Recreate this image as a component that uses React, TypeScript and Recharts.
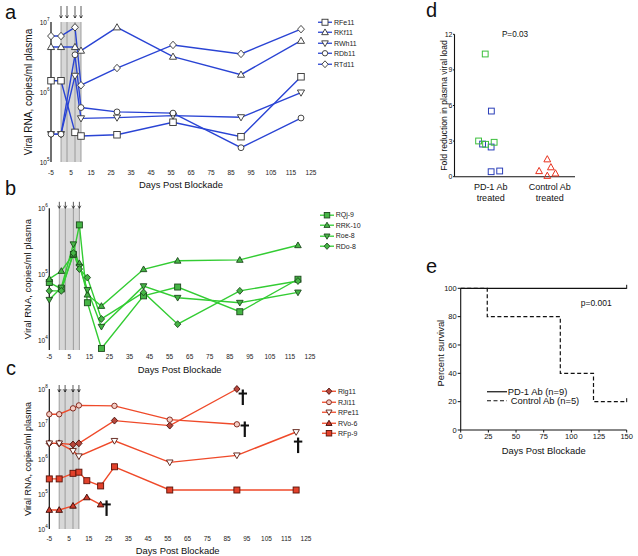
import React from "react";
import {
  LineChart,
  Line,
  XAxis,
  YAxis,
  ReferenceArea,
  ReferenceLine,
  ReferenceDot,
  Legend,
  ScatterChart,
  Scatter,
} from "recharts";

const FONT = '"Liberation Sans", Arial, Helvetica, sans-serif';
const INK = "#111";

// shared
const DAY_TICKS = [-5, 5, 15, 25, 35, 45, 55, 65, 75, 85, 95, 105, 115, 125];
const DOSE_DAYS = [0, 3, 7, 10];

// panel a (blue cohort)
const A_DAYS = [-5, 0, 7, 10, 28, 56, 90, 120];
const A_RFE11 = [1.45e6, 1.45e6, 2.65e5, 2.35e5, 2.45e5, 3.7e5, 2.3e5, 1.65e6];
const A_RKF11 = [4.4e6, 4.4e6, 4.4e6, 3.9e6, 8.4e6, 3.2e6, 1.77e6, 5.4e6];
const A_RWH11 = [2.5e5, 2.5e5, 1.7e6, 4.2e5, 4.3e5, 4.6e5, 4.35e5, 9.8e5];
const A_RDB11 = [2.5e5, 2.5e5, 3.4e6, 6.0e5, 5.2e5, 5.0e5, 1.6e5, 4.25e5];
const A_RTD11 = [6.3e6, 6.3e6, 8.4e6, 1.25e6, 2.2e6, 4.7e6, 3.5e6, 7.9e6];

// panel b (green cohort)
const B_DAYS = [-5, 1, 7, 10, 14, 21, 42, 59, 90, 119];
const B_RQJ9 = [7.5e4, 6.0e4, 2.0e5, 5.6e5, 3.7e4, 7.5e3, 4.7e4, 6.4e4, 2.7e4, 8.4e4];
const B_RRK10 = [8.5e4, 1.12e5, 2.0e5, 1.47e5, 4.9e4, 3.3e4, 1.19e5, 1.6e5, 1.65e5, 2.75e5];
const B_ROE8 = [4.1e4, 6.3e4, 2.85e5, 1.3e5, 5.8e4, 1.6e4, 6.6e4, 4.4e4, 3.7e4, 5.3e4];
const B_RDO8 = [5.6e4, 5.6e4, 2.1e5, 1.2e5, 8.9e4, 2.1e4, 5.3e4, 1.75e4, 5.6e4, 7.9e4];

// panel c (red cohort, controls)
const C_RLG11_DAYS = [-5, 0, 7, 10, 28, 56, 90];
const C_RLG11 = [2.8e6, 2.8e6, 2.6e6, 2.8e6, 1.25e7, 9e6, 1e8];
const C_RJI11_DAYS = [-5, 0, 7, 10, 28, 56, 90];
const C_RJI11 = [1.9e7, 1.9e7, 2.8e7, 3.4e7, 3.3e7, 1.33e7, 9.8e6];
const C_RPE11_DAYS = [-5, 0, 7, 10, 28, 56, 90, 120];
const C_RPE11 = [2.8e6, 2.8e6, 1.7e6, 1.2e6, 3.3e6, 8e5, 1.27e6, 5.9e6];
const C_RVO6_DAYS = [-5, 0, 7, 14, 21];
const C_RVO6 = [3.5e4, 3.5e4, 4.6e4, 8e4, 5e4];
const C_RFP9_DAYS = [-5, 0, 7, 10, 14, 21, 28, 56, 90, 120];
const C_RFP9 = [2.7e5, 2.7e5, 3.9e5, 4.2e5, 2.4e5, 1.7e5, 6e5, 1.3e5, 1.3e5, 1.3e5];
const C_DEATH_DAYS = [93, 94, 121, 24];
const C_DEATH_LEVELS = [5.9e7, 7.2e6, 2.5e6, 4e4];

// panel d
const D_CAT_POS = [0.3, 0.79];
const D_CAT_LABELS = [
  ["PD-1 Ab", "treated"],
  ["Control Ab", "treated"],
];
const D_BLUE_X = [0.306, 0.233, 0.304, 0.304, 0.375];
const D_BLUE_Y = [5.53, 2.75, 2.5, 0.42, 0.48];
const D_GREEN_X = [0.255, 0.2, 0.258, 0.329];
const D_GREEN_Y = [10.34, 3.01, 2.73, 2.9];
const D_RED_X = [0.77, 0.702, 0.8, 0.838, 0.77];
const D_RED_Y = [1.47, 0.48, 0.8, 0.28, 0.08];

// panel e
const E_PD1_DAYS = [0, 150];
const E_PD1_PCT = [100, 100];
const E_CTRL_DAYS = [0, 24, 90, 120, 150];
const E_CTRL_PCT = [100, 80, 40, 20, 20];
const E_X_TICKS = [0, 25, 50, 75, 100, 125, 150];
const E_Y_TICKS = [0, 20, 40, 60, 80, 100];
const E_GROUPS = ["PD-1 Ab (n=9)", "Control Ab (n=5)"];

type Shape = "square" | "circle" | "triangle" | "triangleDown" | "diamond";

interface Series {
  name: string;
  days: number[];
  values: number[];
  shape: Shape;
  fill: string;
  stroke: string;
}

const A_SERIES: Series[] = [
  { name: "RFe11", days: A_DAYS, values: A_RFE11, shape: "square", fill: "#fff", stroke: "#333" },
  { name: "RKf11", days: A_DAYS, values: A_RKF11, shape: "triangle", fill: "#fff", stroke: "#333" },
  { name: "RWh11", days: A_DAYS, values: A_RWH11, shape: "triangleDown", fill: "#fff", stroke: "#333" },
  { name: "RDb11", days: A_DAYS, values: A_RDB11, shape: "circle", fill: "#fff", stroke: "#333" },
  { name: "RTd11", days: A_DAYS, values: A_RTD11, shape: "diamond", fill: "#fff", stroke: "#333" },
];

const B_SERIES: Series[] = [
  { name: "RQj-9", days: B_DAYS, values: B_RQJ9, shape: "square", fill: "#45b545", stroke: "#1d4a1d" },
  { name: "RRK-10", days: B_DAYS, values: B_RRK10, shape: "triangle", fill: "#45b545", stroke: "#1d4a1d" },
  { name: "Roe-8", days: B_DAYS, values: B_ROE8, shape: "triangleDown", fill: "#45b545", stroke: "#1d4a1d" },
  { name: "RDo-8", days: B_DAYS, values: B_RDO8, shape: "diamond", fill: "#45b545", stroke: "#1d4a1d" },
];

const C_SERIES: Series[] = [
  { name: "Rlg11", days: C_RLG11_DAYS, values: C_RLG11, shape: "diamond", fill: "#b8473c", stroke: "#4a0e0a" },
  { name: "RJi11", days: C_RJI11_DAYS, values: C_RJI11, shape: "circle", fill: "#f4cdc4", stroke: "#7a1d12" },
  { name: "RPe11", days: C_RPE11_DAYS, values: C_RPE11, shape: "triangleDown", fill: "#fff", stroke: "#5a1a10" },
  { name: "RVo-6", days: C_RVO6_DAYS, values: C_RVO6, shape: "triangle", fill: "#cf3b2b", stroke: "#3a0a05" },
  { name: "RFp-9", days: C_RFP9_DAYS, values: C_RFP9, shape: "square", fill: "#e2412b", stroke: "#5a1208" },
];

function Marker({
  cx,
  cy,
  shape,
  size,
  fill,
  stroke,
}: {
  cx: number;
  cy: number;
  shape: Shape;
  size: number;
  fill: string;
  stroke: string;
}) {
  const h = size / 2;
  const common = { fill, stroke, strokeWidth: 0.9 };
  switch (shape) {
    case "square":
      return <rect x={cx - h} y={cy - h} width={size} height={size} {...common} />;
    case "circle":
      return <circle cx={cx} cy={cy} r={h * 0.9} {...common} />;
    case "triangle":
      return (
        <polygon
          points={`${cx},${cy - h * 1.1} ${cx + h * 1.1},${cy + h * 0.8} ${cx - h * 1.1},${cy + h * 0.8}`}
          {...common}
        />
      );
    case "triangleDown":
      return (
        <polygon
          points={`${cx},${cy + h * 1.1} ${cx + h * 1.1},${cy - h * 0.8} ${cx - h * 1.1},${cy - h * 0.8}`}
          {...common}
        />
      );
    default:
      return (
        <polygon
          points={`${cx},${cy - h * 1.15} ${cx + h * 1.05},${cy} ${cx},${cy + h * 1.15} ${cx - h * 1.05},${cy}`}
          {...common}
        />
      );
  }
}

const seriesDot = (s: Series, size: number) => (props: any) => {
  const { cx, cy, index } = props;
  if (cx == null || cy == null) return <g key={`e-${index}`} />;
  return (
    <Marker key={`m-${index}`} cx={cx} cy={cy} shape={s.shape} size={size} fill={s.fill} stroke={s.stroke} />
  );
};

const LogTick = (props: any) => {
  const { x, y, payload } = props;
  const exp = Math.round(Math.log10(payload.value));
  return (
    <text x={x} y={y} textAnchor="end" fontSize={6.5} fill={INK} dominantBaseline="central">
      10
      <tspan dy={-2.8} fontSize={4.6}>
        {exp}
      </tspan>
    </text>
  );
};

const xTitle = (text: string, dy: number, fs: number) => (props: any) => {
  const vb = props.viewBox;
  return (
    <text
      x={vb.x + vb.width / 2}
      y={vb.y + dy}
      textAnchor="middle"
      dominantBaseline="central"
      fontSize={fs}
      fill={INK}
    >
      {text}
    </text>
  );
};

const yTitle = (text: string, x: number, fs: number, shift = 0) => (props: any) => {
  const vb = props.viewBox;
  const cy = vb.y + vb.height / 2 + shift;
  return (
    <text
      x={x}
      y={cy}
      transform={`rotate(-90 ${x} ${cy})`}
      textAnchor="middle"
      dominantBaseline="central"
      fontSize={fs}
      fill={INK}
    >
      {text}
    </text>
  );
};

const arrowLabel = (from: number, to: number) => (props: any) => {
  const vb = props.viewBox;
  const x = vb.x;
  const y1 = vb.y + from;
  const y2 = vb.y + to;
  return (
    <g>
      <line x1={x} x2={x} y1={y1} y2={y2} stroke={INK} strokeWidth={0.7} />
      <path
        d={`M${x - 1.5},${y2 - 2.6} L${x},${y2} L${x + 1.5},${y2 - 2.6}`}
        fill="none"
        stroke={INK}
        strokeWidth={0.7}
      />
    </g>
  );
};

const Dagger = (props: any) => {
  const { cx, cy } = props;
  return (
    <g>
      <rect x={cx - 1.1} y={cy - 7.5} width={2.2} height={15.5} fill={INK} />
      <rect x={cx - 4.2} y={cy - 4.5} width={8.4} height={2} fill={INK} />
    </g>
  );
};

function SeriesLegend({
  series,
  size,
  lineColor,
  rowH,
}: {
  series: Series[];
  size: number;
  lineColor: string;
  rowH: number;
}) {
  return (
    <div style={{ fontFamily: FONT, fontSize: 7, color: "#222" }}>
      {series.map((s) => (
        <div key={s.name} style={{ display: "flex", alignItems: "center", height: rowH }}>
          <svg width={14} height={rowH} style={{ display: "block" }}>
            <line x1={0} x2={14} y1={rowH / 2} y2={rowH / 2} stroke={lineColor} strokeWidth={1.3} />
            <Marker cx={7} cy={rowH / 2} shape={s.shape} size={size} fill={s.fill} stroke={s.stroke} />
          </svg>
          <span style={{ marginLeft: 2, lineHeight: 1 }}>{s.name}</span>
        </div>
      ))}
    </div>
  );
}

interface PanelProps {
  top: number;
  height: number;
  plotLeft: number;
  plotRight: number;
  plotTop: number;
  plotBottom: number;
  yDomain: [number, number];
  yTicks: number[];
  series: Series[];
  lineColor: string;
  markerSize: number;
  xTickSize: number;
  titleDy: number;
  yLabelSize: number;
  legendLeft: number;
  legendTop: number;
  legendRow: number;
  arrowFrom: number;
  arrowTo: number;
  deaths?: { days: number[]; levels: number[] };
}

function ViralPanel(p: PanelProps) {
  const W = 372;
  const margin = {
    top: p.plotTop - p.top,
    right: W - p.plotRight,
    bottom: p.height - (p.plotBottom - p.top) - 20,
    left: 0,
  };
  return (
    <div style={{ position: "absolute", left: 0, top: p.top }}>
      <LineChart width={W} height={p.height} margin={margin}>
        <XAxis
          type="number"
          dataKey="day"
          domain={[-5, 125]}
          ticks={DAY_TICKS}
          interval={0}
          axisLine={false}
          tickLine={false}
          tickSize={p.xTickSize}
          tickMargin={2}
          height={20}
          tick={{ fontSize: 6.5, fill: "#222" }}
          label={xTitle("Days Post Blockade", p.titleDy, 9.4)}
        />
        <YAxis
          type="number"
          scale="log"
          domain={p.yDomain}
          ticks={p.yTicks}
          interval={0}
          width={p.plotLeft}
          tickSize={0}
          tickMargin={1.5}
          tickLine={false}
          axisLine={{ stroke: INK, strokeWidth: 1.2 }}
          tick={<LogTick />}
          label={yTitle("Viral RNA, copies/ml plasma", 28, p.yLabelSize)}
        />
        <ReferenceArea x1={0} x2={10} fill="#d7d7d7" fillOpacity={1} stroke="none" />
        {DOSE_DAYS.map((d) => (
          <ReferenceLine
            key={d}
            x={d}
            stroke="#8c8c8c"
            strokeWidth={0.8}
            label={arrowLabel(p.arrowFrom, p.arrowTo)}
          />
        ))}
        {p.series.map((s) => (
          <Line
            key={s.name}
            name={s.name}
            data={s.days.map((d, i) => ({ day: d, v: s.values[i] }))}
            dataKey="v"
            type="linear"
            stroke={p.lineColor}
            strokeWidth={1.4}
            dot={seriesDot(s, p.markerSize)}
            activeDot={false}
            isAnimationActive={false}
          />
        ))}
        {p.deaths &&
          p.deaths.days.map((d, i) => (
            <ReferenceDot
              key={`dagger-${i}`}
              x={d}
              y={p.deaths!.levels[i]}
              ifOverflow="visible"
              shape={Dagger}
            />
          ))}
        <Legend
          layout="vertical"
          align="center"
          verticalAlign="middle"
          wrapperStyle={{ left: p.legendLeft, top: p.legendTop, width: 60, margin: 0 }}
          content={() => (
            <SeriesLegend series={p.series} size={p.markerSize - 0.5} lineColor={p.lineColor} rowH={p.legendRow} />
          )}
        />
      </LineChart>
    </div>
  );
}

const squareShape = (stroke: string) => (props: any) => {
  const { cx, cy } = props;
  return <rect x={cx - 2.9} y={cy - 2.9} width={5.8} height={5.8} fill="none" stroke={stroke} strokeWidth={1} />;
};

const triangleShape = (stroke: string) => (props: any) => {
  const { cx, cy } = props;
  return (
    <polygon
      points={`${cx},${cy - 3.6} ${cx + 3.4},${cy + 2.6} ${cx - 3.4},${cy + 2.6}`}
      fill="none"
      stroke={stroke}
      strokeWidth={1}
    />
  );
};

const CatTick = (props: any) => {
  const { x, y, payload } = props;
  const idx = D_CAT_POS.indexOf(payload.value);
  const lines = D_CAT_LABELS[idx] || [];
  return (
    <g>
      {lines.map((l, i) => (
        <text
          key={l + i}
          x={x}
          y={y + 10 + i * 11}
          textAnchor="middle"
          dominantBaseline="central"
          fontSize={9}
          fill={INK}
        >
          {l}
        </text>
      ))}
    </g>
  );
};

function FoldPanel() {
  const toPts = (xs: number[], ys: number[]) => xs.map((x, i) => ({ x, y: ys[i] }));
  return (
    <div style={{ position: "absolute", left: 330, top: 0 }}>
      <ScatterChart width={308} height={215} margin={{ top: 34.3, right: 63, bottom: 8.3, left: 0 }}>
        <XAxis
          type="number"
          dataKey="x"
          domain={[0, 1]}
          ticks={D_CAT_POS}
          interval={0}
          tickLine={false}
          tickSize={0}
          tickMargin={0}
          axisLine={{ stroke: INK, strokeWidth: 1.1 }}
          height={30}
          tick={<CatTick />}
        />
        <YAxis
          type="number"
          dataKey="y"
          domain={[0, 12]}
          ticks={[0, 3, 6, 9, 12]}
          interval={0}
          width={124.5}
          tickSize={1.5}
          tickMargin={0.5}
          axisLine={{ stroke: INK, strokeWidth: 1.1 }}
          tickLine={{ stroke: INK }}
          tick={{ fontSize: 7, fill: INK }}
          label={yTitle("Fold reduction in plasma viral load", 113.5, 8.6)}
        />
        <Scatter data={toPts(D_BLUE_X, D_BLUE_Y)} shape={squareShape("#2b3fb8")} isAnimationActive={false} />
        <Scatter data={toPts(D_GREEN_X, D_GREEN_Y)} shape={squareShape("#3cbf3c")} isAnimationActive={false} />
        <Scatter data={toPts(D_RED_X, D_RED_Y)} shape={triangleShape("#e8321e")} isAnimationActive={false} />
        <text x={185} y={34} textAnchor="middle" dominantBaseline="central" fontSize={8.2} fill={INK}>
          P=0.03
        </text>
      </ScatterChart>
    </div>
  );
}

const censorDot = (last: number) => (props: any) => {
  const { cx, cy, index } = props;
  if (index !== last || cx == null) return <g key={`c-${index}`} />;
  return <line key={`c-${index}`} x1={cx} x2={cx} y1={cy - 3.5} y2={cy + 0.5} stroke={INK} strokeWidth={1} />;
};

function SurvivalPanel() {
  const pd1 = E_PD1_DAYS.map((d, i) => ({ day: d, pct: E_PD1_PCT[i] }));
  const ctrl = E_CTRL_DAYS.map((d, i) => ({ day: d, pct: E_CTRL_PCT[i] }));
  return (
    <div style={{ position: "absolute", left: 330, top: 260 }}>
      <LineChart width={308} height={200} margin={{ top: 28.3, right: 11.3, bottom: 16, left: 0 }}>
        <XAxis
          type="number"
          dataKey="day"
          domain={[0, 150]}
          ticks={E_X_TICKS}
          interval={0}
          tickSize={2.5}
          tickMargin={1.5}
          height={14}
          axisLine={{ stroke: INK, strokeWidth: 1.1 }}
          tickLine={{ stroke: INK }}
          tick={{ fontSize: 7.5, fill: INK }}
          label={xTitle("Days Post Blockade", 20.7, 9.4)}
        />
        <YAxis
          type="number"
          domain={[0, 100]}
          ticks={E_Y_TICKS}
          interval={0}
          width={130.7}
          tickSize={3}
          tickMargin={1}
          axisLine={{ stroke: INK, strokeWidth: 1.1 }}
          tickLine={{ stroke: INK }}
          tick={{ fontSize: 7.5, fill: INK }}
          label={yTitle("Percent survival", 111, 9.4, -6)}
        />
        <Line
          data={pd1}
          dataKey="pct"
          type="stepAfter"
          stroke={INK}
          strokeWidth={1.2}
          dot={censorDot(pd1.length - 1)}
          activeDot={false}
          isAnimationActive={false}
        />
        <Line
          data={ctrl}
          dataKey="pct"
          type="stepAfter"
          stroke={INK}
          strokeWidth={1.2}
          strokeDasharray="4 2.5"
          dot={censorDot(ctrl.length - 1)}
          activeDot={false}
          isAnimationActive={false}
        />
        <Legend
          layout="vertical"
          align="center"
          verticalAlign="middle"
          wrapperStyle={{ left: 156.7, top: 126.7, width: 130, margin: 0 }}
          content={() => (
            <div style={{ fontFamily: FONT, fontSize: 9.4, color: INK }}>
              {E_GROUPS.map((g, i) => (
                <div key={g} style={{ display: "flex", alignItems: "center", height: 9.5 }}>
                  <svg width={20} height={9.5} style={{ display: "block" }}>
                    <line
                      x1={0}
                      x2={20}
                      y1={4.75}
                      y2={4.75}
                      stroke={INK}
                      strokeWidth={1.2}
                      strokeDasharray={i === 1 ? "4 2.5" : undefined}
                    />
                  </svg>
                  <span style={{ marginLeft: i === 1 ? 4 : 1, lineHeight: 1 }}>{g}</span>
                </div>
              ))}
            </div>
          )}
        />
        <text x={250.7} y={43.3} dominantBaseline="central" fontSize={8.5} fill={INK}>
          p=0.001
        </text>
      </LineChart>
    </div>
  );
}

export default function App() {
  return (
    <div
      style={{
        position: "absolute",
        left: 0,
        top: 0,
        width: 638,
        height: 556,
        background: "#fff",
        fontFamily: FONT,
        overflow: "hidden",
      }}
    >
      <ViralPanel
        top={0}
        height={195}
        plotLeft={51}
        plotRight={311}
        plotTop={22}
        plotBottom={162}
        yDomain={[1e5, 1e7]}
        yTicks={[1e5, 1e6, 1e7]}
        series={A_SERIES}
        lineColor="#2a44d4"
        markerSize={6.5}
        xTickSize={6}
        titleDy={22}
        yLabelSize={10}
        legendLeft={318}
        legendTop={16.75}
        legendRow={10.5}
        arrowFrom={-16}
        arrowTo={-4}
      />
      <ViralPanel
        top={190}
        height={190}
        plotLeft={49.3}
        plotRight={310}
        plotTop={208.3}
        plotBottom={350}
        yDomain={[7.1e3, 1e6]}
        yTicks={[1e4, 1e5, 1e6]}
        series={B_SERIES}
        lineColor="#33cc33"
        markerSize={6}
        xTickSize={2}
        titleDy={19.5}
        yLabelSize={9.5}
        legendLeft={319.7}
        legendTop={19.8}
        legendRow={10.4}
        arrowFrom={-6.5}
        arrowTo={0}
      />
      <ViralPanel
        top={375}
        height={181}
        plotLeft={49.3}
        plotRight={306}
        plotTop={389}
        plotBottom={529}
        yDomain={[1e4, 1e8]}
        yTicks={[1e4, 1e5, 1e6, 1e7, 1e8]}
        series={C_SERIES}
        lineColor="#ef4a2a"
        markerSize={6}
        xTickSize={5}
        titleDy={21.7}
        yLabelSize={9}
        legendLeft={322}
        legendTop={11.45}
        legendRow={10.5}
        arrowFrom={-4}
        arrowTo={3}
        deaths={{ days: C_DEATH_DAYS, levels: C_DEATH_LEVELS }}
      />
      <FoldPanel />
      <SurvivalPanel />
      <svg
        width={638}
        height={556}
        style={{ position: "absolute", left: 0, top: 0, pointerEvents: "none" }}
      >
        <g fontSize={20} fill={INK} fontFamily={FONT}>
          <text x={5} y={18.5}>a</text>
          <text x={5} y={195}>b</text>
          <text x={6} y={375}>c</text>
          <text x={426} y={16.7}>d</text>
          <text x={426} y={273}>e</text>
        </g>
      </svg>
    </div>
  );
}
